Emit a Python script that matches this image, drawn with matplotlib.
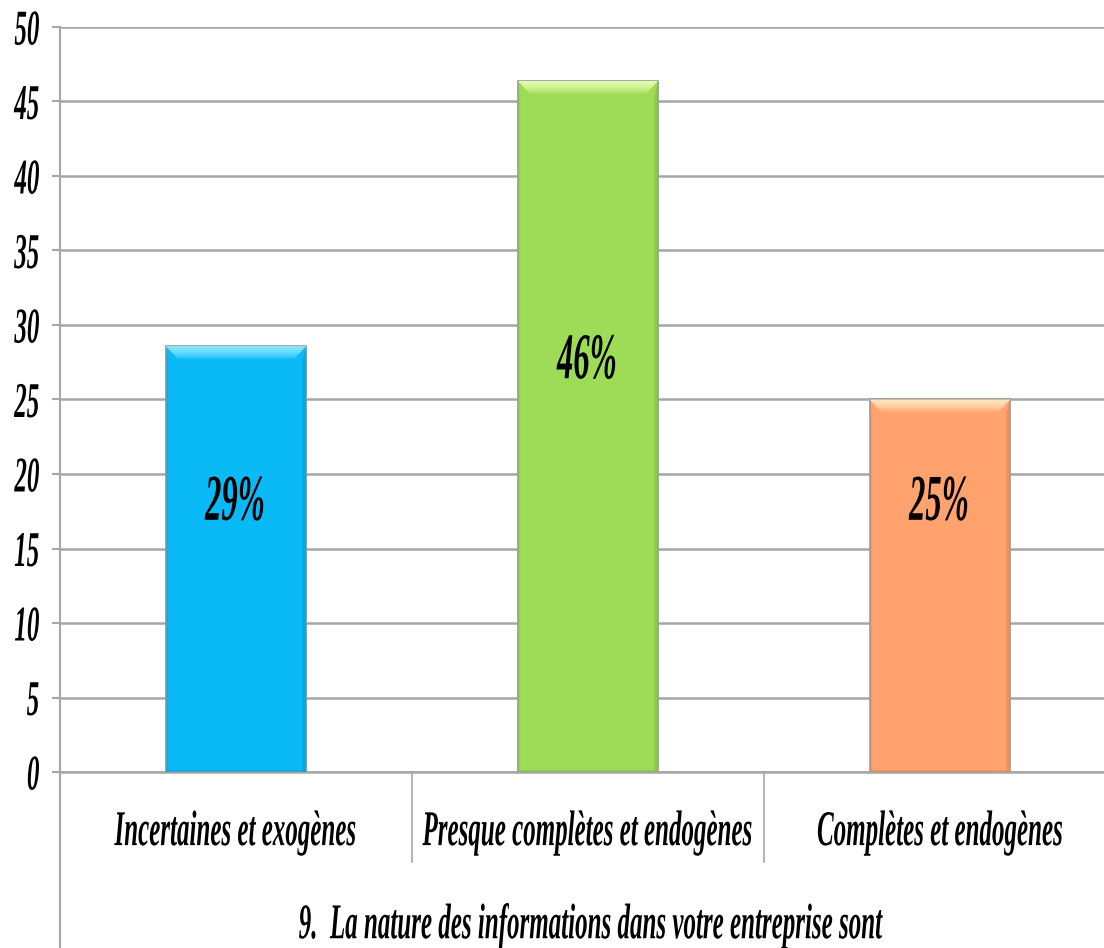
import numpy as np
import matplotlib.pyplot as plt
from matplotlib.patches import Rectangle, Polygon
from matplotlib.colors import to_rgb
from matplotlib.patheffects import AbstractPathEffect
from matplotlib.transforms import Affine2D

# valeurs de la question 9 (en %)
categories = ['Incertaines et exogènes', 'Presque complètes et endogènes', 'Complètes et endogènes']
valeurs = [28.6, 46.4, 25.0]
titre = '9.  La nature des informations dans votre entreprise sont'

couleurs = ['#0ABAF7', '#9EDC58', '#FFA26E']
reflets = ['#86E6FF', '#E0FAAA', '#FFE4BC']
cotes = ['#079FD6', '#86C144', '#E48C5C']
pos_etiquettes = [18.0, 27.5, 18.0]


class Etroit(AbstractPathEffect):
    """Texte resserré horizontalement (police condensée)."""

    def __init__(self, sx=0.5, ancre=0.5):
        super().__init__()
        self.sx = sx
        self.ancre = ancre

    def draw_path(self, renderer, gc, tpath, affine, rgbFace=None):
        ext = tpath.get_extents()
        cx = ext.x0 + self.ancre * (ext.x1 - ext.x0)
        pre = Affine2D().translate(-cx, 0).scale(self.sx, 1).translate(cx, 0)
        renderer.draw_path(gc, tpath, pre + affine, rgbFace)


plt.rcParams['font.family'] = ['Liberation Serif', 'DejaVu Serif']
plt.rcParams['font.weight'] = 'bold'
plt.rcParams['font.style'] = 'italic'

fig = plt.figure(figsize=(11.04, 9.48), dpi=100)
ax = fig.add_axes([60 / 1104, 176 / 948, 1056 / 1104, 745 / 948])

x = np.arange(len(categories))
largeur = 0.40

# taille du biseau en unités de données
px_x = 3 / 1056
px_y = 50 / 745
bx, by = 13 * px_x, 14 * px_y
cote = 4 * px_x

for xi, v, c, r, s, ly in zip(x, valeurs, couleurs, reflets, cotes, pos_etiquettes):
    x0, x1 = xi - largeur / 2, xi + largeur / 2
    ax.add_patch(Rectangle((x0, 0), largeur, v, facecolor=c, edgecolor='#9a9a9a', lw=1.2, zorder=3))
    # côtés un peu plus sombres
    ax.add_patch(Polygon([(x1, v), (x1 - cote, v - by), (x1 - cote, 0), (x1, 0)],
                         closed=True, facecolor=s, edgecolor='none', zorder=4, alpha=0.7))
    ax.add_patch(Polygon([(x0, v), (x0 + cote * 0.7, v - by), (x0 + cote * 0.7, 0), (x0, 0)],
                         closed=True, facecolor=s, edgecolor='none', zorder=4, alpha=0.35))
    ax.add_patch(Rectangle((x0, 0), largeur, 2 * px_y, facecolor=s, edgecolor='none', zorder=4, alpha=0.5))
    # reflet du haut en dégradé
    haut = Polygon([(x0, v), (x1, v), (x1 - bx, v - by), (x0 + bx, v - by)],
                   closed=True, facecolor='none', edgecolor='none', zorder=5)
    ax.add_patch(haut)
    t = np.linspace(0, 1, 64) ** 1.6
    c0, c1 = np.array(to_rgb(r)), np.array(to_rgb(c))
    grad = c1[None, None, :] * t[:, None, None] + c0[None, None, :] * (1 - t[:, None, None])
    grad = np.repeat(np.clip(grad, 0, 1), 2, axis=1)
    im = ax.imshow(grad, extent=[x0, x1, v - by, v], origin='upper', aspect='auto',
                   interpolation='bilinear', zorder=5)
    im.set_clip_path(haut)
    ax.text(xi, ly, f'{round(v)}%', ha='center', va='center', fontsize=47, zorder=6,
            path_effects=[Etroit(0.5, 0.5)])

ax.set_aspect('auto')
ax.set_xlim(-0.5, 2.5)
ax.set_ylim(0, 50)

ax.set_yticks(np.arange(0, 51, 5))
ax.yaxis.grid(True, color='#a6a6a6', lw=1.8)
ax.set_axisbelow(True)
ax.tick_params(axis='y', length=6, width=1.5, color='#a6a6a6', pad=8.5, labelsize=36)
for t_lab in ax.get_yticklabels():
    t_lab.set_path_effects([Etroit(0.5, 1.0)])

ax.set_xticks(x)
ax.set_xticklabels(categories, fontsize=36)
ax.tick_params(axis='x', length=0, pad=44)
for t_lab in ax.get_xticklabels():
    t_lab.set_va('center')
    t_lab.set_path_effects([Etroit(0.5, 0.5)])

for sp in ['top', 'right']:
    ax.spines[sp].set_visible(False)
ax.spines['left'].set_color('#a6a6a6')
ax.spines['left'].set_linewidth(1.5)
ax.spines['bottom'].set_color('#a6a6a6')
ax.spines['bottom'].set_linewidth(1.8)

# cadre de l'axe des catégories
trans = ax.get_xaxis_transform()
ax.plot([-0.5, -0.5], [0, -176 / 745], transform=trans, color='#a6a6a6', lw=1.5, clip_on=False)
for d in [0.5, 1.5]:
    ax.plot([d, d], [0, -90 / 745], transform=trans, color='#a6a6a6', lw=1.2, clip_on=False)

fig.text(590 / 1104, (948 - 926) / 948, titre, ha='center', va='center', fontsize=36,
         path_effects=[Etroit(0.5, 0.5)])

fig.savefig('out.png', dpi=100)
